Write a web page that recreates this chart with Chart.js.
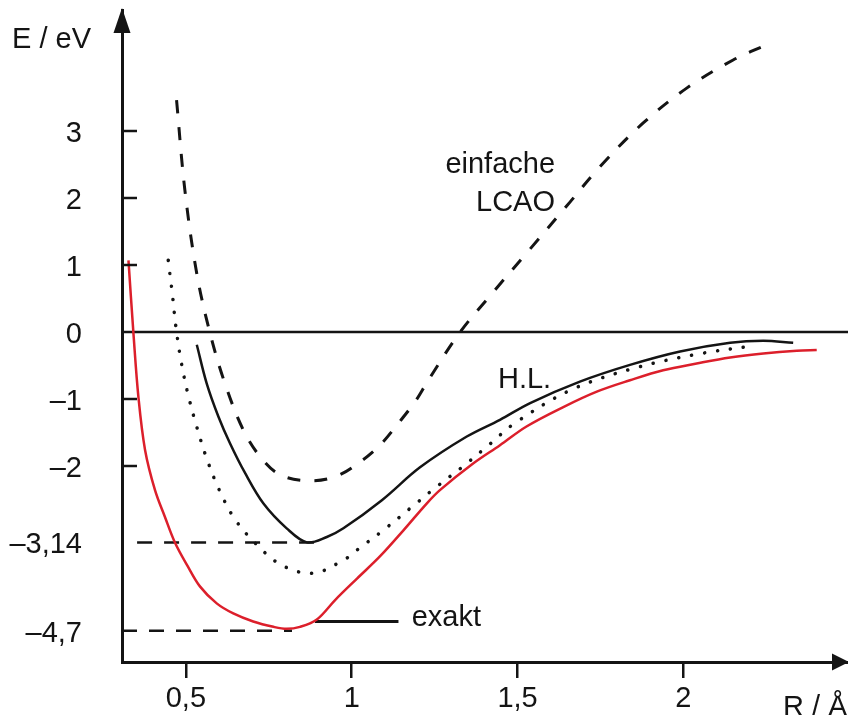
<!DOCTYPE html>
<html>
<head>
<meta charset="utf-8">
<script src="https://cdn.jsdelivr.net/npm/chart.js@4.4.1/dist/chart.umd.min.js"></script>
<style>
  html, body { margin: 0; padding: 0; background: #fff; }
  #wrap { width: 848px; height: 715px; position: relative; }
</style>
</head>
<body>
<div id="wrap"><canvas id="myChart"></canvas></div>
<script>
// values: R in Angstrom, E in eV
var exaktR = [0.327, 0.342, 0.357, 0.377, 0.407, 0.437, 0.467, 0.505, 0.543, 0.593, 0.643, 0.703, 0.764, 0.804, 0.844, 0.895, 0.950, 1.016, 1.085, 1.156, 1.226, 1.266, 1.367, 1.447, 1.527, 1.638, 1.739, 1.839, 1.939, 2.040, 2.141, 2.241, 2.342, 2.402];
var exaktE = [1.07, -0.02, -0.97, -1.76, -2.36, -2.76, -3.14, -3.49, -3.80, -4.05, -4.20, -4.32, -4.40, -4.43, -4.40, -4.29, -4.00, -3.68, -3.35, -2.96, -2.56, -2.36, -1.96, -1.69, -1.41, -1.12, -0.89, -0.72, -0.57, -0.47, -0.38, -0.32, -0.28, -0.27];

var hlR = [0.533, 0.563, 0.598, 0.633, 0.678, 0.734, 0.804, 0.865, 0.925, 0.975, 1.091, 1.206, 1.347, 1.447, 1.538, 1.688, 1.839, 1.990, 2.141, 2.241, 2.331];
var hlE = [-0.19, -0.77, -1.26, -1.66, -2.10, -2.56, -2.93, -3.14, -3.06, -2.93, -2.51, -2.02, -1.56, -1.31, -1.06, -0.74, -0.49, -0.29, -0.16, -0.13, -0.16];

var dotR = [0.447, 0.459, 0.470, 0.485, 0.506, 0.532, 0.563, 0.600, 0.646, 0.709, 0.789, 0.884, 0.980, 1.020, 1.100, 1.179, 1.256, 1.337, 1.415, 1.492, 1.663, 1.859, 2.055, 2.206];
var dotE = [1.07, 0.58, 0.08, -0.42, -0.92, -1.40, -1.89, -2.35, -2.78, -3.15, -3.48, -3.60, -3.39, -3.24, -2.94, -2.62, -2.31, -2.00, -1.68, -1.36, -0.86, -0.53, -0.32, -0.21];

var lcaoR = [0.472, 0.497, 0.533, 0.573, 0.618, 0.673, 0.724, 0.784, 0.869, 0.950, 1.025, 1.085, 1.141, 1.191, 1.231, 1.324, 1.417, 1.538, 1.648, 1.749, 1.879, 2.010, 2.150, 2.261];
var lcaoE = [3.46, 2.12, 0.87, -0.02, -0.77, -1.46, -1.86, -2.13, -2.22, -2.16, -1.94, -1.69, -1.36, -1.04, -0.72, -0.02, 0.54, 1.24, 1.88, 2.47, 3.12, 3.64, 4.06, 4.31];

// helper lines (R from .. to, E level)
var hlMinR = [0.353, 0.889];
var hlMinE = -3.14;
var exaktMinR = [0.3075, 0.82];
var exaktMinE = -4.46;
var exaktTagR = [0.889, 1.141];
var exaktTagE = -4.32;

// axes
var xRange = [0.3075, 2.4963];
var yRange = [-4.925, 4.806];
var xTicks = [0.5, 1, 1.5, 2];
var xTickLabels = ['0,5', '1', '1,5', '2'];
var yTicks = [3, 2, 1, 0, -1, -2, -3.14, -4.46];
var yTickLabels = ['3', '2', '1', '0', '–1', '–2', '–3,14', '–4,7'];

var ink = '#141414';
var red = '#dc1f2b';
var font = '"Liberation Sans", Arial, Helvetica, sans-serif';

function pts(rs, es) {
    return rs.map(function (r, i) { return { x: r, y: es[i] }; });
}
function flat(rs, e) {
    return rs.map(function (r) { return { x: r, y: e }; });
}

var extras = {
    id: 'extras',
    afterDraw: function (chart) {
        var c = chart.ctx, a = chart.chartArea;
        var xs = chart.scales.x, ys = chart.scales.y;
        c.save();
        c.fillStyle = ink;
        c.strokeStyle = ink;

        // inward ticks on the E axis
        c.lineWidth = 2.5;
        yTicks.forEach(function (v) {
            if (Number.isInteger(v) && v !== 0) {
                var py = Math.round(ys.getPixelForValue(v));
                c.beginPath();
                c.moveTo(a.left, py);
                c.lineTo(a.left + 15, py);
                c.stroke();
            }
        });

        // arrow heads
        c.beginPath();
        c.moveTo(a.left, a.top - 2);
        c.lineTo(a.left - 8.5, a.top + 23);
        c.lineTo(a.left + 8.5, a.top + 23);
        c.closePath();
        c.fill();
        c.beginPath();
        c.moveTo(a.right + 1, a.bottom);
        c.lineTo(a.right - 16, a.bottom - 8.5);
        c.lineTo(a.right - 16, a.bottom + 8.5);
        c.closePath();
        c.fill();

        // axis titles
        c.font = '29px ' + font;
        c.textBaseline = 'alphabetic';
        c.textAlign = 'left';
        c.fillText('E / eV', a.left - 110, a.top + 38);
        c.fillText('R / Å', a.right - 65, a.bottom + 54);

        // curve names
        c.textAlign = 'right';
        c.fillText('einfache', xs.getPixelForValue(1.613), ys.getPixelForValue(2.369));
        c.fillText('LCAO', xs.getPixelForValue(1.613), ys.getPixelForValue(1.810));
        c.textAlign = 'left';
        c.fillText('H.L.', xs.getPixelForValue(1.441), ys.getPixelForValue(-0.84));
        c.fillText('exakt', xs.getPixelForValue(1.181), ys.getPixelForValue(-4.388));
        c.restore();
    }
};

var ctx = document.getElementById('myChart').getContext('2d');
var myChart = new Chart(ctx, {
    type: 'scatter',
    plugins: [extras],
    data: {
        datasets: [
            {   // exakt
                data: pts(exaktR, exaktE),
                showLine: true,
                borderColor: red,
                borderWidth: 2.5,
                tension: 0.35,
                pointRadius: 0
            },
            {   // Heitler-London
                data: pts(hlR, hlE),
                showLine: true,
                borderColor: ink,
                borderWidth: 2.5,
                tension: 0.35,
                pointRadius: 0
            },
            {   // dotted curve
                data: pts(dotR, dotE),
                showLine: true,
                borderColor: ink,
                borderWidth: 3.5,
                borderDash: [0.1, 13],
                borderCapStyle: 'round',
                tension: 0.35,
                pointRadius: 0
            },
            {   // einfache LCAO
                data: pts(lcaoR, lcaoE),
                showLine: true,
                borderColor: ink,
                borderWidth: 3,
                borderDash: [13, 14],
                tension: 0.35,
                pointRadius: 0
            },
            {   // zero line
                data: flat(xRange, 0),
                showLine: true,
                borderColor: ink,
                borderWidth: 2.5,
                pointRadius: 0
            },
            {
                data: flat(hlMinR, hlMinE),
                showLine: true,
                borderColor: ink,
                borderWidth: 2.5,
                borderDash: [15, 12],
                pointRadius: 0
            },
            {
                data: flat(exaktMinR, exaktMinE),
                showLine: true,
                borderColor: ink,
                borderWidth: 2.5,
                borderDash: [15, 12],
                pointRadius: 0
            },
            {
                data: flat(exaktTagR, exaktTagE),
                showLine: true,
                borderColor: ink,
                borderWidth: 3,
                pointRadius: 0
            }
        ]
    },
    options: {
        responsive: true,
        maintainAspectRatio: false,
        animation: false,
        layout: { padding: { top: 10, right: 0, left: 0, bottom: 0 } },
        plugins: {
            legend: { display: false },
            tooltip: { enabled: false }
        },
        scales: {
            x: {
                type: 'linear',
                min: xRange[0],
                max: xRange[1],
                afterBuildTicks: function (scale) {
                    scale.ticks = xTicks.map(function (v) { return { value: v }; });
                },
                afterFit: function (scale) {
                    scale.height = 53;
                    scale.paddingLeft = 0;
                    scale.paddingRight = 0;
                },
                grid: {
                    display: true,
                    drawOnChartArea: false,
                    drawTicks: true,
                    tickLength: 16,
                    color: ink,
                    lineWidth: 2.5
                },
                border: { display: true, color: ink, width: 3 },
                ticks: {
                    autoSkip: false,
                    maxRotation: 0,
                    padding: 4,
                    color: ink,
                    font: { family: font, size: 29 },
                    callback: function (v, i) { return xTickLabels[i]; }
                }
            },
            y: {
                type: 'linear',
                min: yRange[0],
                max: yRange[1],
                afterBuildTicks: function (scale) {
                    scale.ticks = yTicks.map(function (v) { return { value: v }; });
                },
                afterFit: function (scale) {
                    scale.width = 122;
                    scale.paddingTop = 0;
                    scale.paddingBottom = 0;
                },
                grid: { display: false },
                border: { display: true, color: ink, width: 3 },
                ticks: {
                    autoSkip: false,
                    padding: 32,
                    labelOffset: 3,
                    color: ink,
                    font: { family: font, size: 29 },
                    callback: function (v, i) { return yTickLabels[i]; }
                }
            }
        }
    }
});
</script>
</body>
</html>
